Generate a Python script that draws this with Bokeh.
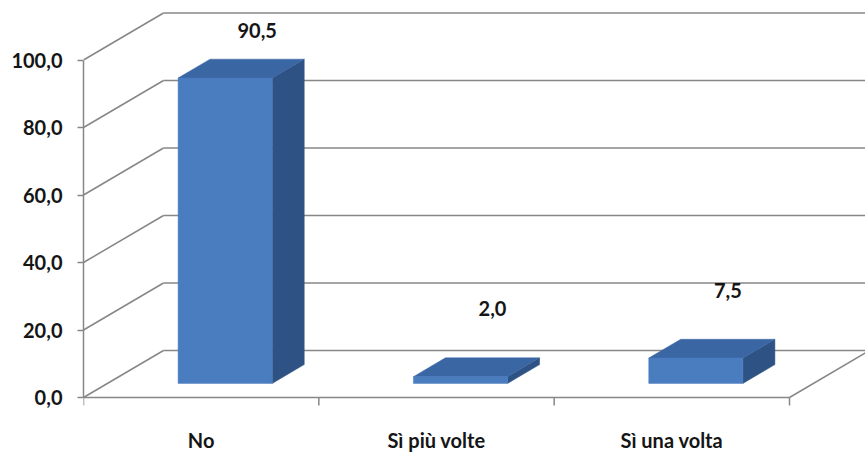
import numpy as np
from bokeh.plotting import figure
from bokeh.models import Range1d, FixedTicker, ColumnDataSource
from bokeh.core.properties import value
from bokeh.embed import file_html
from bokeh.resources import INLINE

# ---- data ----
categories = ["No", "Sì più volte", "Sì una volta"]
percent = [90.5, 2.0, 7.5]
y_ticks = [0, 20, 40, 60, 80, 100]
y_tick_labels = ["0,0", "20,0", "40,0", "60,0", "80,0", "100,0"]

# ---- geometry / style ----
W, H = 865, 455
LEFT = 83
FRAME_W = W - LEFT
PX_PER_CAT = 235.33
PX_PER_UNIT = 3.375
AXIS_Y_PX = 397          # canvas y (from top) of value 0

x_end = FRAME_W / PX_PER_CAT
y_end = AXIS_Y_PX / PX_PER_UNIT
y_start = -(H - AXIS_Y_PX) / PX_PER_UNIT

DX = 80 / PX_PER_CAT     # depth offset (category units)
DY = 47 / PX_PER_UNIT    # depth offset (value units)
HALF = 0.2
D0, D1 = 0.3, 0.7
TICK_LEN = 8 / PX_PER_UNIT
LABEL_GAP = 82 / PX_PER_UNIT
LABEL_MAX = (AXIS_Y_PX - 30) / PX_PER_UNIT

GRID = "#878787"
TXT = "#151515"
FONT = "Lato"
FSIZE = "20px"
FSTYLE = "bold"
FRONT = "#4a7dbf"
TOP = "#3b66a4"
SIDE = "#2e5283"

n = len(categories)
vals = np.array(percent, dtype=float)
centers = np.arange(n) + 0.5

p = figure(width=W, height=H, x_range=Range1d(0, x_end), y_range=Range1d(y_start, y_end),
           output_backend="svg", toolbar_location=None, x_axis_location=None,
           min_border_left=LEFT, min_border_right=0, min_border_top=0, min_border_bottom=0)
p.grid.visible = False
p.outline_line_color = None
p.background_fill_color = "white"
p.border_fill_color = "white"

# y axis
ya = p.yaxis[0]
ya.ticker = FixedTicker(ticks=y_ticks)
ya.bounds = (min(y_ticks), max(y_ticks))
ya.major_label_overrides = {t: l for t, l in zip(y_ticks, y_tick_labels)}
ya.minor_tick_line_color = None
ya.major_tick_in = 0
ya.major_tick_out = 6
ya.axis_line_color = GRID
ya.axis_line_width = 1.5
ya.major_tick_line_color = GRID
ya.major_tick_line_width = 1.5
ya.major_label_text_font = FONT
ya.major_label_text_font_size = FSIZE
ya.major_label_text_font_style = FSTYLE
ya.major_label_text_color = TXT
ya.major_label_standoff = 15

# gridlines: side-wall diagonals + back wall lines
xs, ys = [], []
for t in y_ticks:
    xs.append([0, DX]); ys.append([t, t + DY])
    xs.append([DX, n + DX]); ys.append([t + DY, t + DY])
# floor right diagonal, front baseline and category ticks
xs.append([n, n + DX]); ys.append([0, DY])
xs.append([0, n]); ys.append([0, 0])
for k in range(n + 1):
    xs.append([k, k]); ys.append([0, -TICK_LEN])
p.multi_line(xs, ys, line_color=GRID, line_width=1.5)

# bars (3D)
side_x, side_y, top_x, top_y = [], [], [], []
for c, v in zip(centers, vals):
    xl0, xr0 = c - HALF + D0 * DX, c + HALF + D0 * DX
    xl1, xr1 = c - HALF + D1 * DX, c + HALF + D1 * DX
    b0, b1 = D0 * DY, D1 * DY
    side_x.append([xr0, xr1, xr1, xr0]); side_y.append([b0, b1, v + b1, v + b0])
    top_x.append([xl0, xr0, xr1, xl1]); top_y.append([v + b0, v + b0, v + b1, v + b1])
p.patches(side_x, side_y, fill_color=SIDE, line_color=SIDE, line_width=0.5)
p.patches(top_x, top_y, fill_color=TOP, line_color=TOP, line_width=0.5)
p.quad(left=centers - HALF + D0 * DX, right=centers + HALF + D0 * DX,
       bottom=np.full(n, D0 * DY), top=vals + D0 * DY,
       fill_color=FRONT, line_color=FRONT, line_width=0.5)

# value labels
lab_src = ColumnDataSource(dict(
    x=centers + D1 * DX,
    y=np.minimum(vals + LABEL_GAP, LABEL_MAX),
    t=[f"{v:.1f}".replace(".", ",") for v in vals]))
p.text(x="x", y="y", text="t", source=lab_src, text_align="center", text_baseline="middle",
       text_font=value(FONT), text_font_size=FSIZE, text_font_style=FSTYLE, text_color=TXT)

# category labels
cat_src = ColumnDataSource(dict(x=centers, y=np.zeros(n), t=categories))
p.text(x="x", y="y", text="t", source=cat_src, text_align="center", text_baseline="middle",
       y_offset=42, text_font=value(FONT), text_font_size=FSIZE, text_font_style=FSTYLE,
       text_color=TXT)

open("out.html", "w").write(file_html(p, INLINE))
